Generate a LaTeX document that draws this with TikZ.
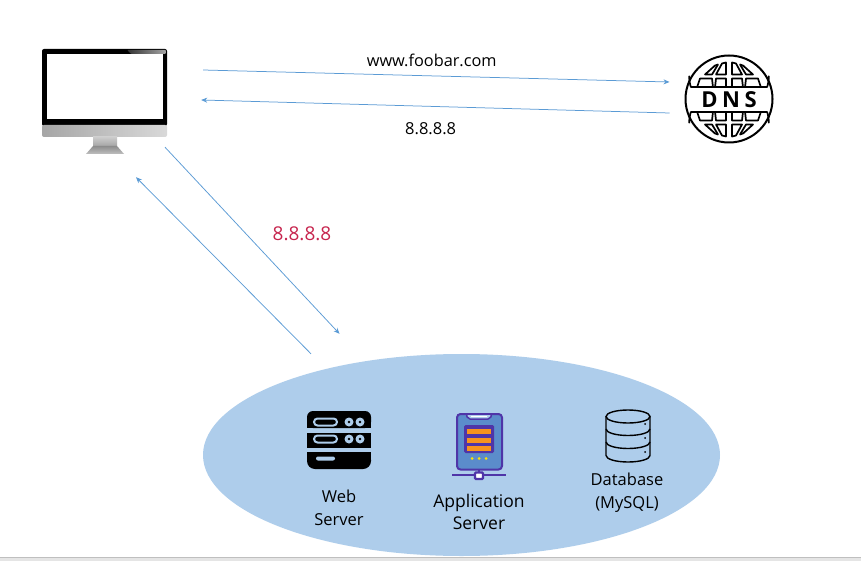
\documentclass[tikz,border=0pt]{standalone}
\usepackage{fontspec}
\setmainfont{Open Sans}
\usetikzlibrary{arrows.meta,positioning,calc,shapes.geometric}
\definecolor{linkblue}{HTML}{5B9BD5}
\definecolor{cloudblue}{HTML}{AECDEB}
\definecolor{apppurple}{HTML}{4F35A8}
\definecolor{appblue}{HTML}{5B8CCB}
\definecolor{apporange}{HTML}{F7931E}
\definecolor{redlabel}{HTML}{C7254E}
\begin{document}
\begin{tikzpicture}[x=1pt,y=-1pt,
    flow/.style={draw=linkblue, line width=0.75pt, -{Stealth[length=6pt,width=5pt]}},
    cloud/.style={ellipse, fill=cloudblue, minimum width=517pt, minimum height=202pt, inner sep=0pt},
    label/.style={align=center, inner sep=0pt, font=\fontsize{16.5}{23}\selectfont},
    rack/.style={fill=black, rounded corners=#1},
    iconline/.style={draw=black, line width=1.4pt, fill=none},
    appline/.style={draw=apppurple, line width=2pt},
    cell/.style={draw=black, line width=1.7pt, line join=round}
]
    \useasboundingbox (0,0) rectangle (861,561);
    \fill[white] (0,0) rectangle (861,561);
    \fill[black!10] (0,557) rectangle (861,561);
    \draw[black!25, line width=1pt] (0,557) -- (861,557);

    % monitor
    \fill[black, rounded corners=2pt] (42,49) rectangle (167,126);
    \shade[left color=black!80, right color=black!35, rounded corners=1pt] (127,50) -- (166,50) -- (166,54) -- (131,54) -- cycle;
    \shade[left color=black!35, right color=black!15, rounded corners=2pt] (42,125) rectangle (167,137);
    \fill[white] (47,54) rectangle (163,119);
    \shade[top color=black!20, bottom color=black!35] (93,137) rectangle (117,146);
    \shade[top color=black!45, bottom color=black!25] (93,146) -- (117,146) -- (124,154) -- (86,154) -- cycle;
    \node[minimum height=104pt, minimum width=126pt, inner sep=0pt] (monitor) at (105,102) {};

    % dns globe
    \node[circle, draw=black, line width=2pt, minimum size=87pt, inner sep=0pt] (dns) at (729,99) {};
    \foreach \sx/\sy in {1/1,-1/1,1/-1,-1/-1} {
        \begin{scope}[shift={(729,99.5)}, xscale=\sx, yscale=\sy]
            \draw[cell] (-24,-25) -- (-14,-34) -- (-11,-35) -- (-17,-25) -- cycle;
            \draw[cell] (-13,-25) -- (-7,-36) -- (-3,-37) -- (-3,-25) -- cycle;
            \draw[cell] (-32,-12) -- (-29,-21) -- (-17,-21) -- (-16,-12);
            \draw[cell] (-14,-12) -- (-13,-21) -- (-3,-21) -- (-3,-12);
            \draw[cell, line width=1.9pt] (-38,-12.5) -- (0,-12.5);
            \draw[cell] (-38,-12) arc[start angle=198, end angle=180, radius=38pt];
        \end{scope}
    }
    \node[font=\fontsize{22}{22}\selectfont\bfseries, inner sep=0pt] (dnstext) at (729,100) {D\hspace{4.5pt}N\hspace{4.5pt}S};

    % cluster
    \node[cloud] (cluster) at (461.5,455) {};

    % web server
    \fill[rack=6pt] (307,411) rectangle (371,428);
    \fill[black] (307,421) rectangle (371,428);
    \fill[black] (307,433) rectangle (371,448);
    \fill[rack=8pt] (307,452) rectangle (371,469);
    \fill[black] (307,452) rectangle (371,460);
    \foreach \yy in {422,439} {
        \draw[draw=cloudblue, line width=2pt, rounded corners=3.5pt] (314,\yy-3.5) rectangle (337,\yy+3.5);
        \fill[cloudblue] (349,\yy) circle (4.5pt) (360,\yy) circle (4.5pt);
        \fill[black] (349,\yy) circle (1.4pt) (360,\yy) circle (1.4pt);
    }
    \fill[cloudblue, rounded corners=2pt] (316,456.5) rectangle (335,460.5);
    \node[minimum width=64pt, minimum height=58pt, inner sep=0pt] (web) at (339,440) {};
    \node[label, below=21pt of web] (weblabel) {Web\\Server};

    % application server
    \draw[appline, fill=appblue, rounded corners=3.5pt] (457,414) rectangle (502,469.5);
    \fill[cloudblue, draw=apppurple, line width=1.5pt, rounded corners=2pt] (466,414) -- (492,414) -- (490,419) -- (468,419) -- cycle;
    \fill[white] (471,416) rectangle (487,417);
    \fill[apppurple, rounded corners=1.5pt] (464,425) rectangle (494,453);
    \foreach \yy in {428.5,437.5,446} {\fill[apporange] (467,\yy) rectangle (491,\yy+5);}
    \foreach \xx in {472,479,486} {\fill[yellow!85!orange] (\xx,458.5) circle (1.5pt);}
    \draw[apppurple, line width=2.6pt] (479,470) -- (479,474) (452,475) -- (506,475);
    \draw[apppurple, fill=white, line width=2.2pt, rounded corners=1pt] (475,472.5) rectangle (483,479);
    \node[minimum width=54pt, minimum height=66pt, inner sep=0pt] (app) at (479,447) {};
    \node[label, font=\fontsize{17.5}{22}\selectfont, below=14pt of app] (applabel) {Application\\Server};

    % database
    \node[minimum width=45pt, minimum height=52pt, inner sep=0pt] (db) at (628,436) {};
    \draw[iconline] (606,416.5) -- (606,455.5) arc[start angle=180, end angle=360, x radius=22pt, y radius=6.5pt] -- (650,416.5);
    \draw[iconline] (628,416.5) ellipse (22pt and 6.5pt);
    \draw[iconline] (606,429) arc[start angle=180, end angle=360, x radius=22pt, y radius=6.5pt];
    \draw[iconline] (606,442) arc[start angle=180, end angle=360, x radius=22pt, y radius=6.5pt];
    \foreach \yy in {424,438,452} {\fill[black] (645,\yy) circle (1pt);}
    \node[label, below=11pt of db, xshift=-1pt] (dblabel) {Database\\(MySQL)};

    % requests
    \draw[flow] ([shift={(35,-32)}]monitor.east) -- node[above=9pt, pos=0.49, inner sep=0pt, font=\fontsize{16.3}{18}\selectfont, text=black] (url) {www.foobar.com} ([shift={(-15,-17)}]dns.west);
    \draw[flow] ([shift={(-15,14)}]dns.west) -- node[below=16pt, pos=0.51, inner sep=0pt, font=\fontsize{16.5}{18}\selectfont, text=black] (ip) {8.8.8.8} ([shift={(33,-2)}]monitor.east);
    \draw[flow] ([shift={(60,-7)}]monitor.south) -- ([shift={(-122,-20)}]cluster.north);
    \draw[flow] ([shift={(-150.5,0)}]cluster.north) -- ([shift={(31,23)}]monitor.south);
    \node[font=\fontsize{19}{22}\selectfont, text=redlabel, inner sep=0pt] (redip) at (302,234) {8.8.8.8};
\end{tikzpicture}
\end{document}
